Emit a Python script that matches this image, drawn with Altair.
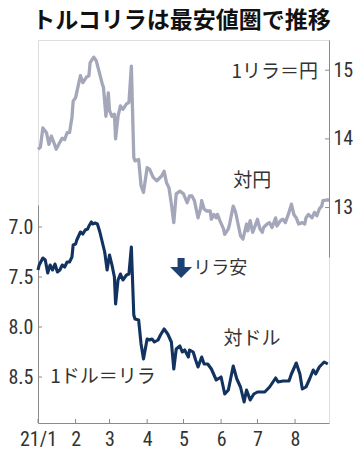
import altair as alt
import pandas as pd

TITLE = "トルコリラは最安値圏で推移"

# 対円 (1リラ=円), gray line, right axis
jpy_dates = [
    "2021-01-01", "2021-01-03", "2021-01-05", "2021-01-08", "2021-01-10", "2021-01-12", "2021-01-14",
    "2021-01-16", "2021-01-19", "2021-01-21", "2021-01-23", "2021-01-25", "2021-01-27", "2021-01-29",
    "2021-01-30", "2021-02-01", "2021-02-05", "2021-02-07", "2021-02-10", "2021-02-12", "2021-02-13",
    "2021-02-16", "2021-02-18", "2021-02-21", "2021-02-23", "2021-02-24", "2021-02-26", "2021-02-28",
    "2021-03-01", "2021-03-03", "2021-03-05", "2021-03-06", "2021-03-08", "2021-03-10", "2021-03-12",
    "2021-03-15", "2021-03-17", "2021-03-19", "2021-03-21", "2021-03-22", "2021-03-25", "2021-03-27",
    "2021-03-29", "2021-04-01", "2021-04-03", "2021-04-06", "2021-04-09", "2021-04-13", "2021-04-15",
    "2021-04-17", "2021-04-19", "2021-04-21", "2021-04-23", "2021-04-25", "2021-04-28", "2021-05-01",
    "2021-05-04", "2021-05-06", "2021-05-08", "2021-05-10", "2021-05-13", "2021-05-15", "2021-05-16",
    "2021-05-18", "2021-05-20", "2021-05-23", "2021-05-24", "2021-05-26", "2021-05-28", "2021-05-29",
    "2021-05-31", "2021-06-03", "2021-06-04", "2021-06-07", "2021-06-08", "2021-06-11", "2021-06-13",
    "2021-06-15", "2021-06-17", "2021-06-19", "2021-06-22", "2021-06-23", "2021-06-25", "2021-06-27",
    "2021-06-29", "2021-07-01", "2021-07-03", "2021-07-05", "2021-07-06", "2021-07-09", "2021-07-11",
    "2021-07-13", "2021-07-16", "2021-07-17", "2021-07-20", "2021-07-22", "2021-07-24", "2021-07-27",
    "2021-07-29", "2021-07-31", "2021-08-02", "2021-08-04", "2021-08-07", "2021-08-09", "2021-08-10",
    "2021-08-12", "2021-08-15", "2021-08-17", "2021-08-19", "2021-08-21", "2021-08-23", "2021-08-24",
    "2021-08-27", "2021-08-29",
]
jpy_values = [
    13.85, 13.88, 14.16, 14.09, 13.92, 14.04, 13.95,
    13.85, 13.95, 14.01, 13.99, 14.09, 14.09, 14.31,
    14.55, 14.60, 14.92, 14.82, 14.90, 14.92, 15.11,
    15.19, 15.14, 14.94, 14.80, 14.75, 14.33, 14.67,
    14.41, 14.33, 14.36, 14.00, 14.33, 14.48, 14.43,
    14.51, 14.53, 15.06, 13.73, 13.68, 13.70, 13.32,
    13.22, 13.58, 13.56, 13.44, 13.39, 13.46, 13.53,
    13.36, 13.29, 13.05, 12.78, 13.20, 13.24, 13.20,
    13.07, 13.17, 13.17, 13.10, 12.85, 12.98, 13.10,
    12.98, 12.95, 12.95, 12.83, 12.90, 12.85, 12.90,
    12.81, 12.69, 12.61, 12.69, 12.76, 13.02, 12.93,
    12.76, 12.59, 12.54, 12.76, 12.66, 12.81, 12.64,
    12.73, 12.83, 12.69, 12.64, 12.71, 12.76, 12.78,
    12.71, 12.85, 12.73, 12.81, 12.83, 12.78, 12.93,
    13.05, 12.90, 12.85, 12.76, 12.78, 12.76, 12.85,
    12.90, 12.85, 12.93, 12.88, 12.98, 13.02, 13.10,
    13.11, 13.11,
]

# 対ドル (1ドル=リラ), navy line, left reversed axis
usd_dates = [
    "2021-01-01", "2021-01-02", "2021-01-05", "2021-01-07", "2021-01-09", "2021-01-11", "2021-01-13",
    "2021-01-15", "2021-01-17", "2021-01-19", "2021-01-21", "2021-01-23", "2021-01-25", "2021-01-27",
    "2021-01-29", "2021-01-30", "2021-02-01", "2021-02-02", "2021-02-05", "2021-02-07", "2021-02-09",
    "2021-02-11", "2021-02-12", "2021-02-14", "2021-02-15", "2021-02-17", "2021-02-19", "2021-02-21",
    "2021-02-23", "2021-02-25", "2021-02-27", "2021-03-01", "2021-03-03", "2021-03-05", "2021-03-06",
    "2021-03-08", "2021-03-10", "2021-03-12", "2021-03-15", "2021-03-17", "2021-03-19", "2021-03-21",
    "2021-03-22", "2021-03-25", "2021-03-27", "2021-03-29", "2021-04-01", "2021-04-03", "2021-04-05",
    "2021-04-07", "2021-04-10", "2021-04-12", "2021-04-15", "2021-04-18", "2021-04-21", "2021-04-23",
    "2021-04-25", "2021-04-28", "2021-04-30", "2021-05-02", "2021-05-05", "2021-05-06", "2021-05-09",
    "2021-05-11", "2021-05-13", "2021-05-16", "2021-05-18", "2021-05-21", "2021-05-24", "2021-05-28",
    "2021-06-01", "2021-06-04", "2021-06-07", "2021-06-11", "2021-06-14", "2021-06-17", "2021-06-20",
    "2021-06-22", "2021-06-25", "2021-06-28", "2021-07-01", "2021-07-07", "2021-07-11", "2021-07-16",
    "2021-07-18", "2021-07-22", "2021-07-27", "2021-07-29", "2021-08-02", "2021-08-05", "2021-08-07",
    "2021-08-10", "2021-08-13", "2021-08-16", "2021-08-18", "2021-08-21", "2021-08-25", "2021-08-28",
]
usd_values = [
    7.43, 7.38, 7.31, 7.33, 7.46, 7.38, 7.43,
    7.37, 7.45, 7.43, 7.38, 7.40, 7.35, 7.35,
    7.30, 7.18, 7.17, 7.13, 7.05, 7.07, 7.03,
    7.02, 6.99, 6.95, 6.97, 6.96, 6.97, 7.05,
    7.15, 7.25, 7.43, 7.28, 7.38, 7.50, 7.77,
    7.53, 7.47, 7.53, 7.48, 7.47, 7.20, 7.88,
    7.92, 7.93, 8.17, 8.32, 8.12, 8.13, 8.12,
    8.15, 8.13, 8.08, 8.02, 8.07, 8.15, 8.42,
    8.22, 8.19, 8.25, 8.23, 8.30, 8.23, 8.25,
    8.33, 8.40, 8.30, 8.37, 8.37, 8.42, 8.53,
    8.50, 8.67, 8.63, 8.39, 8.52, 8.60, 8.75,
    8.63, 8.73, 8.67, 8.65, 8.65, 8.60, 8.51,
    8.55, 8.54, 8.54, 8.47, 8.36, 8.47, 8.62,
    8.60, 8.52, 8.43, 8.47, 8.40, 8.35, 8.37,
]

# axis ticks
month_starts = ["2021-01-01", "2021-02-01", "2021-03-01", "2021-04-01",
                "2021-05-01", "2021-06-01", "2021-07-01", "2021-08-01"]
jpy_ticks = [13, 14, 15]
usd_ticks = [7.0, 7.5, 8.0, 8.5]

# annotations (text, date, value)
jpy_unit_label = ["1リラ＝円"]
jpy_unit_date = ["2021-08-20"]
jpy_unit_value = [14.97]
jpy_name_label = ["対円"]
jpy_name_date = ["2021-06-11"]
jpy_name_value = [13.39]

usd_labels = ["リラ安", "対ドル", "1ドル＝リラ"]
usd_label_dates = ["2021-05-09", "2021-06-03", "2021-01-11"]
usd_label_values = [7.42, 8.12, 8.50]
usd_label_sizes = [18, 19, 19]

arrow_date = ["2021-04-29"]
arrow_value = [7.41]

GRAY = "#a4a7ba"
NAVY = "#12325f"
ARROW = "#1c4274"
TEXT = "#333333"
AXIS = "#8a8a8a"
NUM_FONT = "Liberation Sans Narrow, Roboto Condensed, DejaVu Sans Condensed, Liberation Sans, sans-serif"
JP_FONT = "Noto Sans CJK JP"

W, H = 291, 383

jpy_df = pd.DataFrame({"date": jpy_dates, "value": jpy_values})
usd_df = pd.DataFrame({"date": usd_dates, "value": usd_values})
mt_df = pd.DataFrame({"date": month_starts})
jt_df = pd.DataFrame({"value": jpy_ticks})
ut_df = pd.DataFrame({"value": usd_ticks})
ju_df = pd.DataFrame({"date": jpy_unit_date, "value": jpy_unit_value, "label": jpy_unit_label})
jn_df = pd.DataFrame({"date": jpy_name_date, "value": jpy_name_value, "label": jpy_name_label})
ul_df = pd.DataFrame({"date": usd_label_dates, "value": usd_label_values,
                      "label": usd_labels, "size": usd_label_sizes})
ar_df = pd.DataFrame({"date": arrow_date, "value": arrow_value})

x_scale = alt.Scale(type="utc", domain=[
    alt.DateTime(year=2021, month=1, date=1, utc=True),
    alt.DateTime(year=2021, month=8, date=29, utc=True)])
x_axis = alt.Axis(
    values=[alt.DateTime(year=2021, month=m, date=1, utc=True) for m in range(1, 9)],
    labelExpr="utcmonth(datum.value) == 0 ? '21/1' : '' + (utcmonth(datum.value) + 1)",
    ticks=False, tickSize=0, grid=False, domainColor=AXIS, domainWidth=1,
    labelFont=NUM_FONT, labelFontSize=20, labelColor=TEXT, labelPadding=6,
    labelFlush=False, labelOverlap=False, title=None)
X = alt.X("date:T", scale=x_scale, axis=x_axis, title=None)

jpy_scale = alt.Scale(domain=[12.28, 15.44], range=[217, 0], zero=False, nice=False)
jpy_axis = alt.Axis(orient="right", values=jpy_ticks, format="d", ticks=False, tickSize=0,
                    grid=False, domainColor=AXIS, domainWidth=1, labelFont=NUM_FONT,
                    labelFontSize=20, labelColor=TEXT, labelPadding=4, title=None)
YJ = alt.Y("value:Q", scale=jpy_scale, axis=jpy_axis, title=None)

usd_scale = alt.Scale(domain=[6.78, 8.96], range=[165, 383], zero=False, nice=False)
usd_axis = alt.Axis(orient="left", values=usd_ticks, format=".1f", ticks=False, tickSize=0,
                    grid=False, domainColor=AXIS, domainWidth=1, labelFont=NUM_FONT,
                    labelFontSize=20, labelColor=TEXT, labelPadding=5, title=None)
YU = alt.Y("value:Q", scale=usd_scale, axis=usd_axis, title=None)

jpy_line = alt.Chart(jpy_df).mark_line(color=GRAY, strokeWidth=3.3, strokeJoin="round").encode(x=X, y=YJ)
jpy_tick = alt.Chart(jt_df).mark_rule(color=AXIS, strokeWidth=1).encode(
    y=YJ, x=alt.value(W - 4), x2=alt.value(W))
jpy_unit = alt.Chart(ju_df).mark_text(align="right", baseline="middle", font=JP_FONT,
                                      fontSize=19, color=TEXT).encode(x=X, y=YJ, text="label:N")
jpy_name = alt.Chart(jn_df).mark_text(align="left", baseline="middle", font=JP_FONT,
                                      fontSize=19, color=TEXT).encode(x=X, y=YJ, text="label:N")

usd_line = alt.Chart(usd_df).mark_line(color=NAVY, strokeWidth=3.1, strokeJoin="round").encode(x=X, y=YU)
usd_tick = alt.Chart(ut_df).mark_rule(color=AXIS, strokeWidth=1).encode(
    y=YU, x=alt.value(0), x2=alt.value(4))
usd_text = alt.Chart(ul_df).mark_text(align="left", baseline="middle", font=JP_FONT, color=TEXT).encode(
    x=X, y=YU, text="label:N", size=alt.Size("size:Q", scale=None, legend=None))
arrow = alt.Chart(ar_df).mark_point(
    shape="M-0.32,-0.9 L0.32,-0.9 L0.32,-0.1 L1,-0.1 L0,0.9 L-1,-0.1 L-0.32,-0.1 Z",
    filled=True, size=484, color=ARROW, opacity=1, strokeWidth=0).encode(x=X, y=YU)
x_ticks = alt.Chart(mt_df).mark_rule(color=AXIS, strokeWidth=1).encode(
    x=X, y=alt.value(H - 4), y2=alt.value(H))

gray_layer = alt.layer(jpy_line, jpy_tick, jpy_unit, jpy_name)
navy_layer = alt.layer(usd_line, usd_tick, usd_text, arrow, x_ticks)

chart = alt.layer(gray_layer, navy_layer).resolve_scale(y="independent").properties(
    width=W, height=H,
    autosize="none",
    padding={"left": 30, "top": 32, "right": 25, "bottom": 28},
    title=alt.Title(TITLE, font=JP_FONT, fontSize=23, fontWeight="bold", color="#111111",
                    anchor="middle", offset=7, dx=-2),
).configure_view(strokeWidth=0).configure(background="white")

chart.save("out.html", embed_options={"renderer": "svg", "actions": False})
